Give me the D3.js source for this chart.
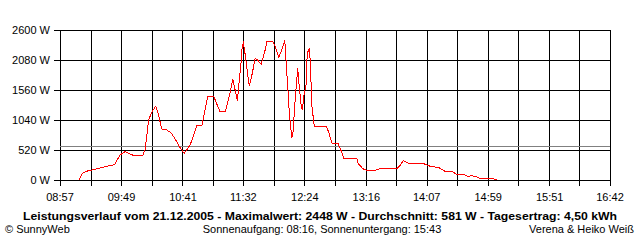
<!DOCTYPE html>
<html>
<head>
<meta charset="utf-8">
<script src="https://cdn.jsdelivr.net/npm/d3@7"></script>
<style>
  body { margin: 0; background: #fff; }
  text { font-family: "Liberation Sans", Arial, sans-serif; font-size: 11px; fill: #000; }
</style>
</head>
<body>
<div id="chart"></div>
<script>

// time of each reading (hh:mm) and power in W
var times = ["09:13","09:16","09:19","09:24","09:31","09:39","09:43","09:48","09:52","09:56",
  "09:59","10:07","10:09","10:12","10:15","10:18","10:20","10:23","10:27","10:31",
  "10:34","10:38","10:42","10:47","10:53","10:57","11:02","11:07","11:12","11:17",
  "11:21","11:23","11:26","11:27","11:28","11:30","11:31","11:32","11:33","11:34",
  "11:35","11:37","11:39","11:42","11:44","11:47","11:50","11:52","11:57","11:59",
  "12:02","12:06","12:07","12:08","12:10","12:11","12:13","12:14","12:16","12:18",
  "12:19","12:21","12:22","12:23","12:25","12:26","12:28","12:29","12:30","12:32",
  "12:42","12:44","12:47","12:52","12:55","12:57","13:08","13:09","13:13","13:16",
  "13:23","13:29","13:42","13:45","13:47","13:52","14:04","14:07","14:11","14:17",
  "14:22","14:28","14:32","14:38","14:42","14:45","14:49","14:52","15:03","15:06"];
var watts = [0,116,150,173,208,248,265,439,491,451,
  428,428,532,1050,1190,1283,1156,884,870,815,
  722,578,462,607,953,953,1450,1450,1196,1196,
  1531,1751,1473,1369,1618,2022,2311,2369,2253,2109,
  1936,1629,1791,2109,2080,2005,2213,2398,2398,2311,
  2126,2340,2427,2109,1473,1127,722,838,1444,1936,
  1676,1271,1208,1444,1647,2196,2282,1820,1271,936,
  936,838,636,636,491,376,376,289,196,168,
  168,202,202,265,335,289,289,260,231,220,
  156,156,104,104,58,75,58,29,29,0];

var xLabels = ["08:57","09:49","10:41","11:32","12:24","13:16","14:07","14:59","15:51","16:42"];
var yTicks = [0, 520, 1040, 1560, 2080, 2600];
var average = 581;

var title = "Leistungsverlauf vom 21.12.2005 - Maximalwert: 2448 W - Durchschnitt: 581 W - Tagesertrag: 4,50 kWh";
var footLeft = "\u00A9 SunnyWeb";
var footMid = "Sonnenaufgang: 08:16, Sonnenuntergang: 15:43";
var footRight = "Verena & Heiko Wei\u00DF";

function toMin(s) { var p = s.split(":"); return +p[0] * 60 + +p[1]; }

var width = 640, height = 240;
var svg = d3.select("#chart").append("svg")
    .attr("width", width)
    .attr("height", height);

var tStart = toMin(xLabels[0]), tEnd = toMin(xLabels[xLabels.length - 1]);
var x = d3.scaleLinear().domain([tStart, tEnd]).range([60, 610]);
var y = d3.scaleLinear().domain([0, 2600]).range([180, 30]);

// grid lines: one at each label and one half way between
var gridT = [];
for (var i = 0; i <= 18; i++) gridT.push(tStart + i * (tEnd - tStart) / 18);

var grid = svg.append("g").attr("shape-rendering", "crispEdges");
grid.selectAll(".vx").data(gridT).enter().append("line")
    .attr("x1", function(d) { return Math.round(x(d)) + 0.5; })
    .attr("x2", function(d) { return Math.round(x(d)) + 0.5; })
    .attr("y1", y(2600)).attr("y2", 186)
    .attr("stroke", "#000");
grid.selectAll(".hy").data(yTicks).enter().append("line")
    .attr("x1", 54).attr("x2", 610.5)
    .attr("y1", function(d) { return Math.round(y(d)) + 0.5; })
    .attr("y2", function(d) { return Math.round(y(d)) + 0.5; })
    .attr("stroke", "#000");

// average line
grid.append("line")
    .attr("x1", 60).attr("x2", 610)
    .attr("y1", Math.round(y(average)) + 0.5)
    .attr("y2", Math.round(y(average)) + 0.5)
    .attr("stroke", "#808080");

// y labels
svg.append("g").selectAll("text").data(yTicks).enter().append("text")
    .attr("x", 50)
    .attr("y", function(d) { return y(d) + 4; })
    .attr("text-anchor", "end")
    .text(function(d) { return d + " W"; });

// x labels
svg.append("g").selectAll("text").data(xLabels).enter().append("text")
    .attr("x", function(d) { return x(toMin(d)); })
    .attr("y", 201)
    .attr("text-anchor", "middle")
    .text(function(d) { return d; });

// power curve
var pts = times.map(function(t, i) { return [toMin(t), watts[i]]; });
svg.append("path")
    .datum(pts)
    .attr("fill", "none")
    .attr("stroke", "#ff0000")
    .attr("stroke-width", 1)
    .attr("shape-rendering", "crispEdges")
    .attr("d", d3.line()
      .x(function(d) { return x(d[0]); })
      .y(function(d) { return y(d[1]); }));

// title and footer
svg.append("text")
    .attr("x", 23).attr("y", 220)
    .attr("textLength", 594)
    .attr("lengthAdjust", "spacingAndGlyphs")
    .style("font-weight", "bold")
    .style("font-size", "11.5px")
    .text(title);
svg.append("text").attr("x", 5).attr("y", 233).text(footLeft);
svg.append("text").attr("x", 322).attr("y", 233)
    .attr("text-anchor", "middle").text(footMid);
svg.append("text").attr("x", 634).attr("y", 233)
    .attr("text-anchor", "end").text(footRight);

</script>
</body>
</html>
